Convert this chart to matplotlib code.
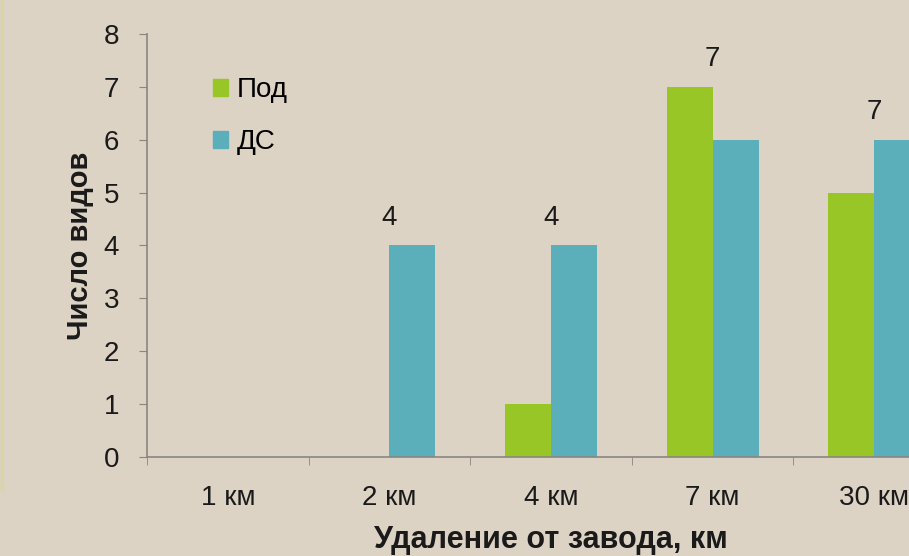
import numpy as np
import matplotlib.pyplot as plt
from matplotlib.patches import Patch
from matplotlib.lines import Line2D

##------------------------------DATA-----------------------##
categories = ['1 км', '2 км', '4 км', '7 км', '30 км']
pod = [0, 0, 1, 7, 5]
ds = [0, 4, 4, 6, 6]
top_labels = [None, 4, 4, 7, 7]

##------------------------------STYLE-----------------------##
plt.rcParams['font.family'] = ['Liberation Sans', 'DejaVu Sans']
bg = '#ddd3c4'
green = '#98c626'
teal = '#5aafba'
grey = '#8a8580'
ink = '#1a1a1a'

fig = plt.figure(figsize=(9.09, 5.56), dpi=100, facecolor=bg)
ax = fig.add_axes([0.1617, 0.178, 0.889, 0.761], facecolor=bg)

# faint slide border on the left
fig.add_artist(Line2D([0.002, 0.002], [0.12, 1.0], transform=fig.transFigure,
                      color='#d8d6a6', lw=2.5))

x = np.arange(len(categories))
w = 0.285
ax.bar(x - w/2, pod, w, color=green, label='Под')
ax.bar(x + w/2, ds, w, color=teal, label='ДС')

for xi, p, d, lab in zip(x, pod, ds, top_labels):
    if lab is None:
        continue
    ax.text(xi, max(p, d) + 0.28, str(lab), ha='center', va='bottom', fontsize=20, color=ink)

ax.set_xlim(-0.5, len(categories) - 0.5)
ax.set_ylim(0, 8)
ax.set_yticks(range(0, 9))
ax.set_xticks(x)
ax.set_xticklabels(categories)
ax.set_xticks(np.arange(-0.5, len(categories)), minor=True)
ax.tick_params(axis='x', which='major', length=0, pad=20, labelsize=20, labelcolor=ink)
ax.tick_params(axis='x', which='minor', length=6, color=grey, direction='out')
ax.tick_params(axis='y', length=6, color=grey, labelsize=20, labelcolor=ink, pad=14)

for s in ['top', 'right']:
    ax.spines[s].set_visible(False)
for s in ['left', 'bottom']:
    ax.spines[s].set_color(grey)
    ax.spines[s].set_linewidth(1.2)

ax.set_ylabel('Число видов', fontsize=21, fontweight='bold', color=ink)
ax.set_xlabel('Удаление от завода, км', fontsize=22, fontweight='bold', color=ink)
ax.yaxis.set_label_coords(-0.066, 0.5)
ax.xaxis.set_label_coords(0.5, -0.16)

handles = [Patch(color=green, label='Под'), Patch(color=teal, label='ДС')]
ax.legend(handles=handles, loc='upper left', bbox_to_anchor=(0.0817, 0.898), frameon=False,
          fontsize=20, handlelength=0.55, handleheight=0.55, handletextpad=0.3,
          labelspacing=0.95, borderpad=0, borderaxespad=0)

plt.savefig('out.png', dpi=100, facecolor=bg)
